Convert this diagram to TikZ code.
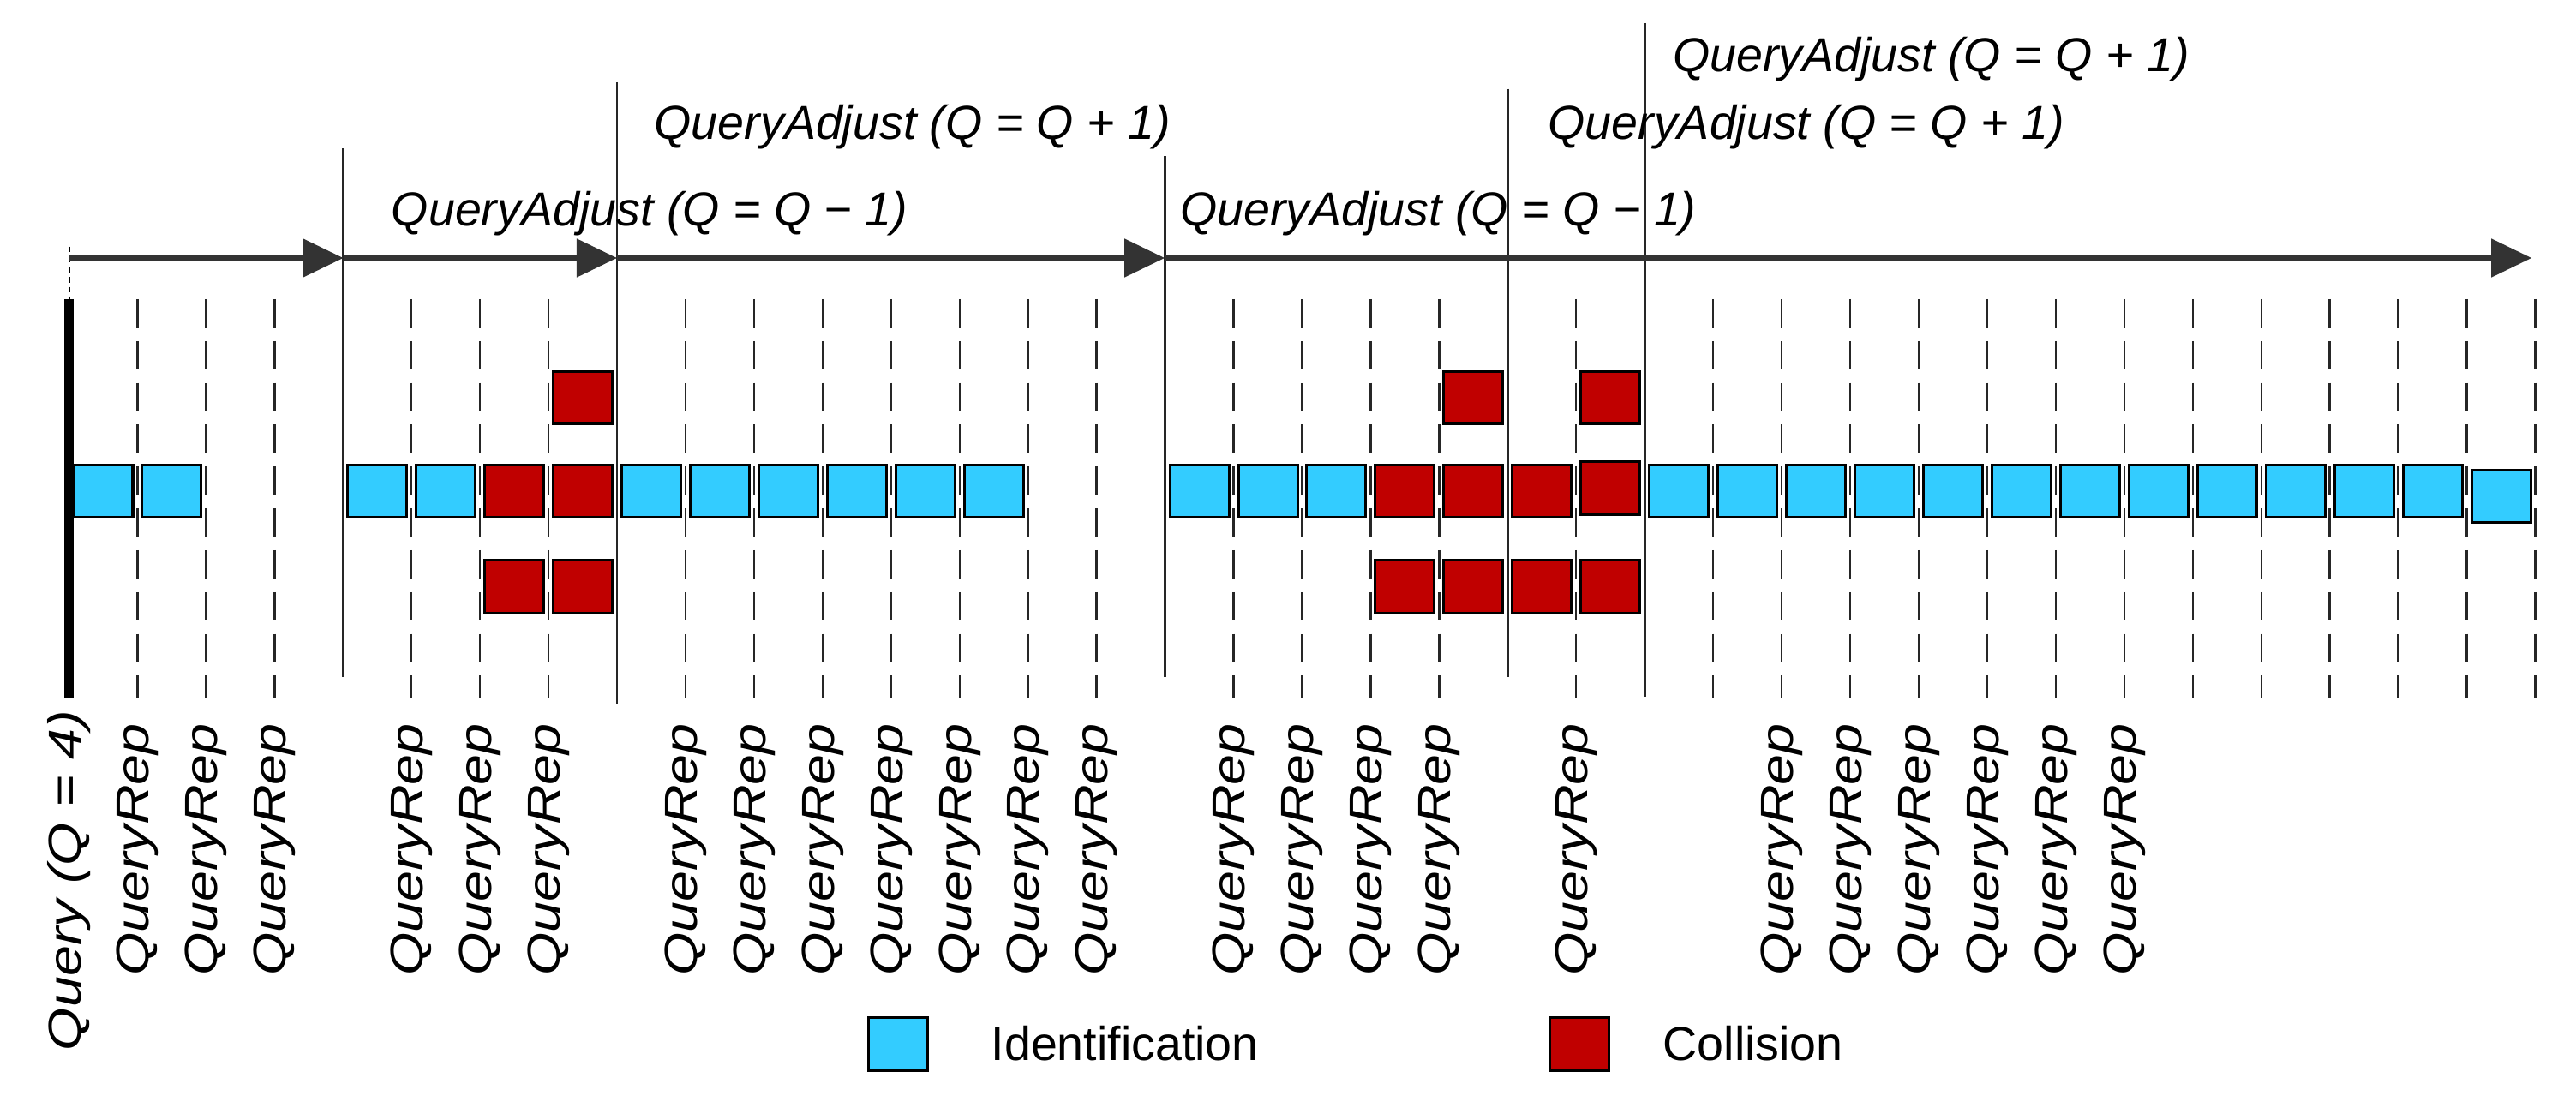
\documentclass[tikz,border=0pt]{standalone}
\usepackage{fontspec}
\setmainfont{Liberation Sans}
\usetikzlibrary{arrows.meta,calc}
\definecolor{idc}{HTML}{33CCFF}
\definecolor{colc}{HTML}{C00000}
\begin{document}
\begin{tikzpicture}[x=0.02cm,y=-0.02cm,
  box/.style={draw=black,line width=0.9pt,minimum width=0.72cm,minimum height=0.64cm,inner sep=0pt},
  idb/.style={box,fill=idc},
  colb/.style={box,fill=colc},
  tl/.style={font=\fontsize{16.5}{19}\selectfont\itshape,anchor=west,inner sep=0pt},
  rl/.style={font=\fontsize{16}{19}\selectfont\itshape,rotate=90,anchor=east,inner sep=0pt},
  lg/.style={font=\fontsize{16.5}{19}\selectfont,anchor=west,inner sep=0pt},
  dl/.style={line width=0.7pt,dash pattern=on 10pt off 4.5pt,black!85},
  sl/.style={line width=0.8pt,black!85},
  ar/.style={line width=1.8pt,black!80,-{Triangle[length=14pt,width=13pt]}}]
\useasboundingbox (0,0) rectangle (1568,674);
% slot boundaries
\foreach \k in {0,...,36}{\coordinate (b\k) at ({42+41.7*\k},0);}
% dashed lines
\foreach \k in {1,2,3,5,6,7,9,10,11,12,13,14,15,17,18,19,20,22,24,25,26,27,28,29,30,31,32,33,34,35,36}{
  \coordinate (dt\k) at ($(b\k)+(0,182)$);
  \coordinate (db\k) at ($(b\k)+(0,425)$);
  \draw[dl] (dt\k) -- (db\k);}
% solid separators
\foreach \k/\t/\b in {4/90/412,8/50/428,16/95/412,21/54/412,23/14/424}{
  \coordinate (st\k) at ($(b\k)+(0,\t)$);
  \coordinate (sb\k) at ($(b\k)+(0,\b)$);
  \draw[sl] (st\k) -- (sb\k);}
% start line
\coordinate (s0) at (42,150); \coordinate (s1) at (42,182); \coordinate (s2) at (42,425);
\draw[line width=0.6pt,dash pattern=on 2pt off 1.5pt] (s0) -- (s1);
\draw[line width=3pt] (s1) -- (s2);
% arrows
\coordinate (a0) at (42,157); \coordinate (a1) at (209,157); \coordinate (a2) at (375.6,157);
\coordinate (a3) at (709,157); \coordinate (a4) at (1541,157);
\draw[ar] (a0) -- (a1); \draw[ar] (a1) -- (a2); \draw[ar] (a2) -- (a3); \draw[ar] (a3) -- (a4);
% boxes
\foreach \k in {0,1,4,5,8,9,10,11,12,13,16,17,18,23,24,25,26,27,28,29,30,31,32,33,34}{
  \node[idb] (m\k) at ({62.85+41.7*\k},299) {};}
\node[idb] (m35) at ({62.85+41.7*35},302) {};
\foreach \k in {6,7,19,20,21}{\node[colb] (m\k) at ({62.85+41.7*\k},299) {};}
\node[colb] (m22) at ({62.85+41.7*22},297) {};
\foreach \k in {7,20,22}{\node[colb] (t\k) at ({62.85+41.7*\k},242) {};}
\foreach \k in {6,7,19,20,21,22}{\node[colb] (u\k) at ({62.85+41.7*\k},357) {};}
% top labels
\node[tl] (q1) at (238,130) {QueryAdjust (Q = Q − 1)};
\node[tl] (q2) at (398,77) {QueryAdjust (Q = Q + 1)};
\node[tl] (q3) at (718,130) {QueryAdjust (Q = Q − 1)};
\node[tl] (q4) at (942,77) {QueryAdjust (Q = Q + 1)};
\node[tl] (q5) at (1018,36) {QueryAdjust (Q = Q + 1)};
% bottom labels
\node[rl] (lq) at (42,432) {\scalebox{1.2}[1]{Query (Q = 4)}};
\foreach \k in {1,2,3,5,6,7,9,10,11,12,13,14,15,17,18,19,20,22,25,26,27,28,29,30}{
  \node[rl] (r\k) at ({42+41.7*\k},440) {\scalebox{1.2}[1]{QueryRep}};}
% legend
\node[idb] (lgi) at (546.5,635.5) {};
\node[lg] (lgit) at (603,635) {Identification};
\node[colb] (lgc) at (961.5,635.5) {};
\node[lg] (lgct) at (1012,635) {Collision};
\end{tikzpicture}
\end{document}
